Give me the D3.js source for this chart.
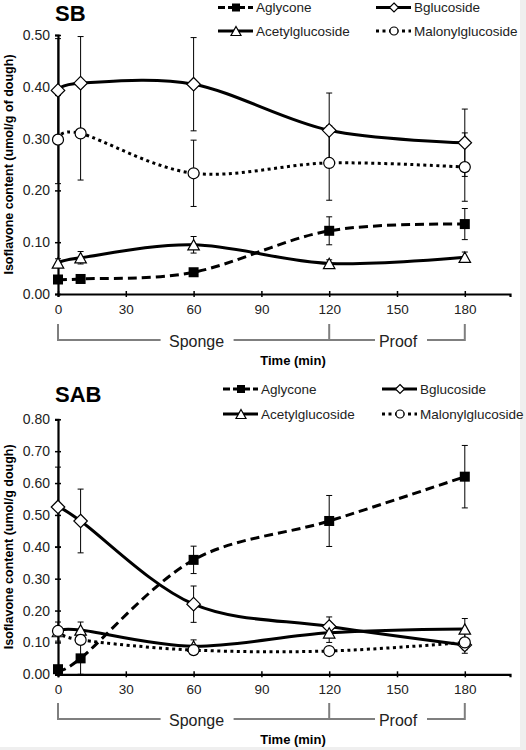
<!DOCTYPE html>
<html><head><meta charset="utf-8">
<script src="https://cdn.jsdelivr.net/npm/d3@7"></script>
<style>
html,body{margin:0;padding:0;background:#fff;}
svg{display:block;font-family:"Liberation Sans",Arial,sans-serif;}
</style></head>
<body>
<svg id="c" width="526" height="750"></svg>
<script>
// ---- data ----
const times = [0, 10, 60, 120, 180];
const xTicks = [0, 30, 60, 90, 120, 150, 180];
const seriesNames = ["Aglycone", "Bglucoside", "Acetylglucoside", "Malonylglucoside"];

// SB panel
const sbAglycone = [0.028, 0.029, 0.042, 0.122, 0.135];
const sbAglyconeErr = [0.004, 0.004, 0.006, 0.027, 0.030];
const sbBglucoside = [0.393, 0.407, 0.405, 0.316, 0.292];
const sbBglucosideErr = [0.100, 0.090, 0.090, 0.072, 0.065];
const sbAcetyl = [0.060, 0.070, 0.095, 0.059, 0.071];
const sbAcetylErr = [0.008, 0.012, 0.016, 0.007, 0.010];
const sbMalonyl = [0.298, 0.310, 0.233, 0.253, 0.245];
const sbMalonylErr = [0.085, 0.090, 0.064, 0.072, 0.066];
const sbYTicks = [0, 0.1, 0.2, 0.3, 0.4, 0.5];

// SAB panel
const sabAglycone = [0.016, 0.050, 0.359, 0.481, 0.620];
const sabAglyconeErr = [0.010, 0.050, 0.043, 0.080, 0.098];
const sabBglucoside = [0.525, 0.481, 0.220, 0.150, 0.092];
const sabBglucosideErr = [0.125, 0.100, 0.057, 0.030, 0.015];
const sabAcetyl = [0.134, 0.139, 0.088, 0.130, 0.142];
const sabAcetylErr = [0.030, 0.025, 0.020, 0.030, 0.033];
const sabMalonyl = [0.136, 0.108, 0.076, 0.073, 0.100];
const sabMalonylErr = [0.010, 0.010, 0.006, 0.008, 0.034];
const sabYTicks = [0, 0.1, 0.2, 0.3, 0.4, 0.5, 0.6, 0.7, 0.8];

const svg = d3.select("#c");
svg.append("rect").attr("x",0).attr("y",0).attr("width",526).attr("height",750).attr("fill","#efefef");
svg.append("rect").attr("x",0).attr("y",0).attr("width",520).attr("height",747).attr("fill","#fff");

const styles = {
  Aglycone: {dash:"9,5", width:3, marker:"square"},
  Bglucoside: {dash:null, width:3, marker:"diamond"},
  Acetylglucoside: {dash:null, width:3, marker:"triangle"},
  Malonylglucoside: {dash:"3,3.5", width:3, marker:"circle"}
};

// s = overall marker size (px)
function drawMarker(g, type, cx, cy, s) {
  if (type === "square") {
    g.append("rect").attr("x",cx-s*0.5).attr("y",cy-s*0.5).attr("width",s).attr("height",s).attr("fill","#000");
  } else if (type === "diamond") {
    const r = s*0.5;
    g.append("path").attr("d",`M${cx},${cy-r}L${cx+r},${cy}L${cx},${cy+r}L${cx-r},${cy}Z`)
      .attr("fill","#fff").attr("stroke","#000").attr("stroke-width",1.2);
  } else if (type === "triangle") {
    const w = s*0.5, h = s*0.45;
    g.append("path").attr("d",`M${cx},${cy-h}L${cx+w},${cy+h}L${cx-w},${cy+h}Z`)
      .attr("fill","#fff").attr("stroke","#000").attr("stroke-width",1.2);
  } else {
    g.append("circle").attr("cx",cx).attr("cy",cy).attr("r",s*0.5)
      .attr("fill","#fff").attr("stroke","#000").attr("stroke-width",1.2);
  }
}
const plotSize = {square:10, diamond:13.5, triangle:11.5, circle:11};
const legSize = {square:8, diamond:9, triangle:10, circle:8};

function panel(cfg) {
  const x = d3.scaleLinear().domain([0,200]).range([58,510]);
  const y = d3.scaleLinear().domain([0,cfg.ymax]).range([cfg.y0,cfg.y1]);
  const g = svg.append("g");

  g.append("text").attr("x",55).attr("y",cfg.titleY).attr("font-size",22).attr("font-weight","bold")
    .attr("fill","#000").text(cfg.title);

  const ya = g.append("g").attr("transform","translate(58,0)")
    .call(d3.axisLeft(y).tickValues(cfg.yTicks).tickFormat(d3.format(".2f")).tickSizeOuter(0).tickSize(3).tickPadding(8));
  ya.select(".domain").attr("stroke-width",2.2);
  ya.selectAll(".tick line").attr("x1",-3).attr("x2",3).attr("stroke-width",1.5);
  ya.selectAll(".tick text").attr("font-size",14).attr("fill","#222").attr("x",-8)
    .attr("font-family","Liberation Sans, Arial, sans-serif");

  const xa = g.append("g").attr("transform",`translate(0,${cfg.y0})`)
    .call(d3.axisBottom(x).tickValues(xTicks).tickSizeOuter(0).tickSize(3).tickPadding(7));
  xa.select(".domain").attr("stroke-width",2.2);
  xa.selectAll(".tick line").attr("y1",-3).attr("y2",3).attr("stroke-width",1.5);
  xa.selectAll(".tick text").attr("font-size",13.5).attr("fill","#222")
    .attr("font-family","Liberation Sans, Arial, sans-serif");

  g.append("text").attr("transform",`translate(13,${(cfg.y0+cfg.y1)/2}) rotate(-90)`)
    .attr("text-anchor","middle").attr("font-size",12.5).attr("font-weight","bold").attr("fill","#000")
    .text(cfg.ylabel);

  const bt = cfg.bracketTop, bb = cfg.bracketTop + 16;
  const gc = "#7f7f7f";
  const bl = g.append("g").attr("stroke",gc).attr("stroke-width",2).attr("fill","none");
  bl.append("path").attr("d",`M${x(0)},${bt}V${bb}H${x(60)-33}`);
  bl.append("path").attr("d",`M${x(60)+40}, ${bb}H${x(120)}V${bt}`);
  bl.append("path").attr("d",`M${x(120)},${bb}H${x(150)-22}`);
  bl.append("path").attr("d",`M${x(150)+30},${bb}H${x(180)}V${bt}`);
  g.append("text").attr("x",x(60)+3).attr("y",bb+6.5).attr("text-anchor","middle").attr("font-size",16)
    .attr("fill","#222").text("Sponge");
  g.append("text").attr("x",x(150)+1).attr("y",bb+6.5).attr("text-anchor","middle").attr("font-size",16)
    .attr("fill","#222").text("Proof");
  g.append("text").attr("x",293).attr("y",bb+25).attr("text-anchor","middle").attr("font-size",13)
    .attr("font-weight","bold").attr("fill","#000").text("Time (min)");

  const eb = g.append("g").attr("stroke","#000").attr("stroke-width",1);
  cfg.series.forEach(s => {
    s.vals.forEach((v,i) => {
      const cx = x(times[i]), top = y(v + s.err[i]), bot = y(Math.max(0, v - s.err[i]));
      eb.append("line").attr("x1",cx).attr("x2",cx).attr("y1",top).attr("y2",bot);
      eb.append("line").attr("x1",cx-3).attr("x2",cx+3).attr("y1",top).attr("y2",top);
      eb.append("line").attr("x1",cx-3).attr("x2",cx+3).attr("y1",bot).attr("y2",bot);
    });
  });

  const line = d3.line().x((d,i)=>x(times[i])).y(d=>y(d)).curve(d3.curveCardinal.tension(0));
  cfg.series.forEach(s => {
    const st = styles[s.name];
    g.append("path").attr("d",line(s.vals)).attr("fill","none").attr("stroke","#000")
      .attr("stroke-width",st.width).attr("stroke-dasharray",st.dash);
  });
  const mg = g.append("g");
  cfg.series.forEach(s => {
    const st = styles[s.name];
    s.vals.forEach((v,i) => drawMarker(mg, st.marker, x(times[i]), y(v), plotSize[st.marker]));
  });

  const lg = g.append("g");
  const pos = [
    {lx:cfg.leg.c1, ly:cfg.leg.r1}, {lx:cfg.leg.c2, ly:cfg.leg.r1},
    {lx:cfg.leg.c1, ly:cfg.leg.r2}, {lx:cfg.leg.c2, ly:cfg.leg.r2}
  ];
  seriesNames.forEach((n,i) => {
    const st = styles[n], p = pos[i];
    lg.append("line").attr("x1",p.lx).attr("x2",p.lx+35).attr("y1",p.ly).attr("y2",p.ly)
      .attr("stroke","#000").attr("stroke-width",st.width).attr("stroke-dasharray",n==="Aglycone"?"7,3":st.dash);
    drawMarker(lg, st.marker, p.lx+18, p.ly, legSize[st.marker]);
    lg.append("text").attr("x",p.lx+38).attr("y",p.ly+4.8).attr("font-size",13.5).attr("fill","#222").text(n);
  });
}

panel({
  title:"SB", titleY:21, ymax:0.5, y0:294, y1:35, yTicks:sbYTicks,
  ylabel:"Isoflavone content (umol/g of dough)", bracketTop:324,
  leg:{c1:218, c2:376, r1:7.5, r2:31},
  series:[
    {name:"Aglycone", vals:sbAglycone, err:sbAglyconeErr},
    {name:"Bglucoside", vals:sbBglucoside, err:sbBglucosideErr},
    {name:"Acetylglucoside", vals:sbAcetyl, err:sbAcetylErr},
    {name:"Malonylglucoside", vals:sbMalonyl, err:sbMalonylErr}
  ]
});
panel({
  title:"SAB", titleY:402, ymax:0.8, y0:674.3, y1:419.3, yTicks:sabYTicks,
  ylabel:"Isoflavone content (umol/g dough)", bracketTop:703,
  leg:{c1:223, c2:382, r1:389, r2:414},
  series:[
    {name:"Aglycone", vals:sabAglycone, err:sabAglyconeErr},
    {name:"Bglucoside", vals:sabBglucoside, err:sabBglucosideErr},
    {name:"Acetylglucoside", vals:sabAcetyl, err:sabAcetylErr},
    {name:"Malonylglucoside", vals:sabMalonyl, err:sabMalonylErr}
  ]
});
</script>
</body></html>
